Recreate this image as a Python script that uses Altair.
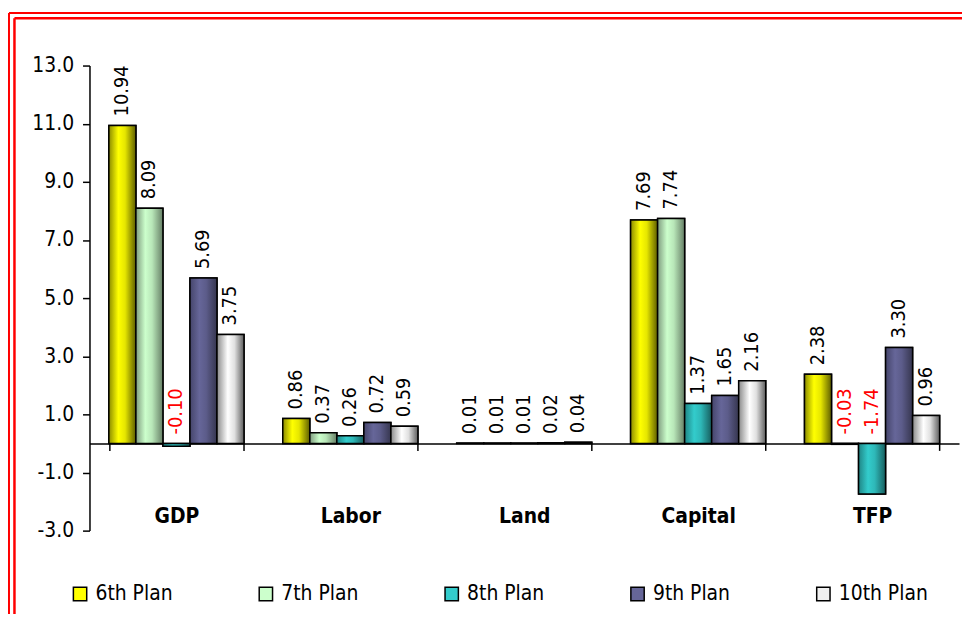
import altair as alt
import pandas as pd

# ---- data ----
categories = ["GDP", "Labor", "Land", "Capital", "TFP"]
series = ["6th Plan", "7th Plan", "8th Plan", "9th Plan", "10th Plan"]
plan6 = [10.94, 0.86, 0.01, 7.69, 2.38]
plan7 = [8.09, 0.37, 0.01, 7.74, -0.03]
plan8 = [-0.10, 0.26, 0.01, 1.37, -1.74]
plan9 = [5.69, 0.72, 0.02, 1.65, 3.30]
plan10 = [3.75, 0.59, 0.04, 2.16, 0.96]
y_ticks = [-3, -1, 1, 3, 5, 7, 9, 11, 13]

rows = []
for s, vals in zip(series, [plan6, plan7, plan8, plan9, plan10]):
    for c, v in zip(categories, vals):
        rows.append({"category": c, "plan": s, "value": v, "lab": f"{v:.2f}"})
df = pd.DataFrame(rows)

# ---- styles ----
FONT = "DejaVu Sans Condensed, Liberation Sans, sans-serif"
solid = ["#FFFF00", "#CCFFCC", "#33CCCC", "#666699", "#F0F0F0"]
stops = [
    [("#8C8C00", 0.0), ("#FFFF00", 0.35), ("#E6E600", 0.6), ("#5E5E00", 1.0)],
    [("#7F9C7F", 0.0), ("#CCFFCC", 0.35), ("#B8E6B8", 0.6), ("#667F66", 1.0)],
    [("#1F8585", 0.0), ("#33CCCC", 0.35), ("#2EB8B8", 0.6), ("#175E5E", 1.0)],
    [("#45456B", 0.0), ("#666699", 0.35), ("#5C5C8A", 0.6), ("#36364F", 1.0)],
    [("#8A8A8A", 0.0), ("#FFFFFF", 0.4), ("#E0E0E0", 0.65), ("#5E5E5E", 1.0)],
]
def grad(st):
    return {"gradient": "linear", "x1": 0, "x2": 1, "y1": 0, "y2": 0,
            "stops": [{"offset": o, "color": c} for c, o in st]}

W, H = 875, 468
PAD = {"left": 82, "top": 56, "right": 3, "bottom": 84}

x_axis = alt.Axis(title=None, offset=-H * 3 / 16, tickBand="extent", tickSize=7,
                  tickColor="black", tickWidth=1.5, domainColor="black", domainWidth=1.5,
                  labelFont=FONT, labelFontWeight="bold", labelFontSize=21,
                  labelColor="black", labelPadding=56, labelAngle=0)
x_enc = alt.X("category:N", sort=categories,
              scale=alt.Scale(domain=categories, paddingInner=0.223, paddingOuter=0.1115),
              axis=x_axis)
xoff = alt.XOffset("plan:N", sort=series, scale=alt.Scale(domain=series))
y_axis = alt.Axis(title=None, values=y_ticks,
                  labelExpr="replace(format(datum.value, '.1f'), '\u2212', '-')",
                  tickSize=7, tickColor="black",
                  tickWidth=1.5, domainColor="black", domainWidth=1.5, grid=False,
                  labelFont=FONT, labelFontSize=21, labelColor="black", labelPadding=9)
y_scale = alt.Scale(domain=[-3, 13], nice=False)

base = alt.Chart(df)

legend_bars = base.mark_bar(stroke="black", strokeWidth=1.5).encode(
    x=x_enc, xOffset=xoff,
    y=alt.Y("value:Q", scale=y_scale, axis=y_axis), y2=alt.datum(0),
    color=alt.Color("plan:N", sort=series,
                    scale=alt.Scale(domain=series, range=solid),
                    legend=alt.Legend(title=None, orient="none", legendX=-20, legendY=521,
                                      direction="horizontal", columns=5, gridAlign="all",
                                      columnPadding=71, symbolType="square", symbolSize=180,
                                      symbolStrokeColor="black", symbolStrokeWidth=1.5,
                                      labelFont=FONT, labelFontSize=21, labelColor="black",
                                      labelOffset=5, padding=0)),
)

grad_layers = []
for s, st in zip(series, stops):
    grad_layers.append(
        base.transform_filter(alt.datum.plan == s)
        .mark_bar(fill=grad(st), stroke="black", strokeWidth=1.5)
        .encode(x=x_enc, xOffset=xoff,
                y=alt.Y("value:Q", scale=y_scale, axis=y_axis), y2=alt.datum(0))
    )

labels = base.transform_calculate(
    ypos="max(datum.value, 0)"
).mark_text(angle=270, align="left", baseline="middle", dx=9, font=FONT, fontSize=20).encode(
    x=x_enc, xOffset=xoff,
    y=alt.Y("ypos:Q", scale=y_scale, axis=y_axis),
    text="lab:N",
    color=alt.condition(alt.datum.value < 0, alt.value("#FF0000"), alt.value("black")),
)

bdf = pd.DataFrame({"k": [0]})
RIGHT = W + PAD["right"]
BOTTOM = H + PAD["bottom"]
border = [
    alt.Chart(bdf).mark_rule(color="#FF0000", strokeWidth=2).encode(
        x=alt.value(-81), x2=alt.value(RIGHT), y=alt.value(-53)),
    alt.Chart(bdf).mark_rule(color="#FF0000", strokeWidth=2.5).encode(
        x=alt.value(-75.5), x2=alt.value(RIGHT), y=alt.value(-47.5)),
    alt.Chart(bdf).mark_rule(color="#FF0000", strokeWidth=2).encode(
        x=alt.value(-81), y=alt.value(-53), y2=alt.value(BOTTOM)),
    alt.Chart(bdf).mark_rule(color="#FF0000", strokeWidth=2.5).encode(
        x=alt.value(-75.5), y=alt.value(-47.5), y2=alt.value(BOTTOM)),
]

chart = alt.layer(legend_bars, *grad_layers, labels, *border).properties(
    width=W, height=H, autosize=alt.AutoSizeParams(type="none"), padding=PAD
).configure(font=FONT, background="white").configure_view(stroke=None)

chart.save("out.html", embed_options={"renderer": "svg", "actions": False})
